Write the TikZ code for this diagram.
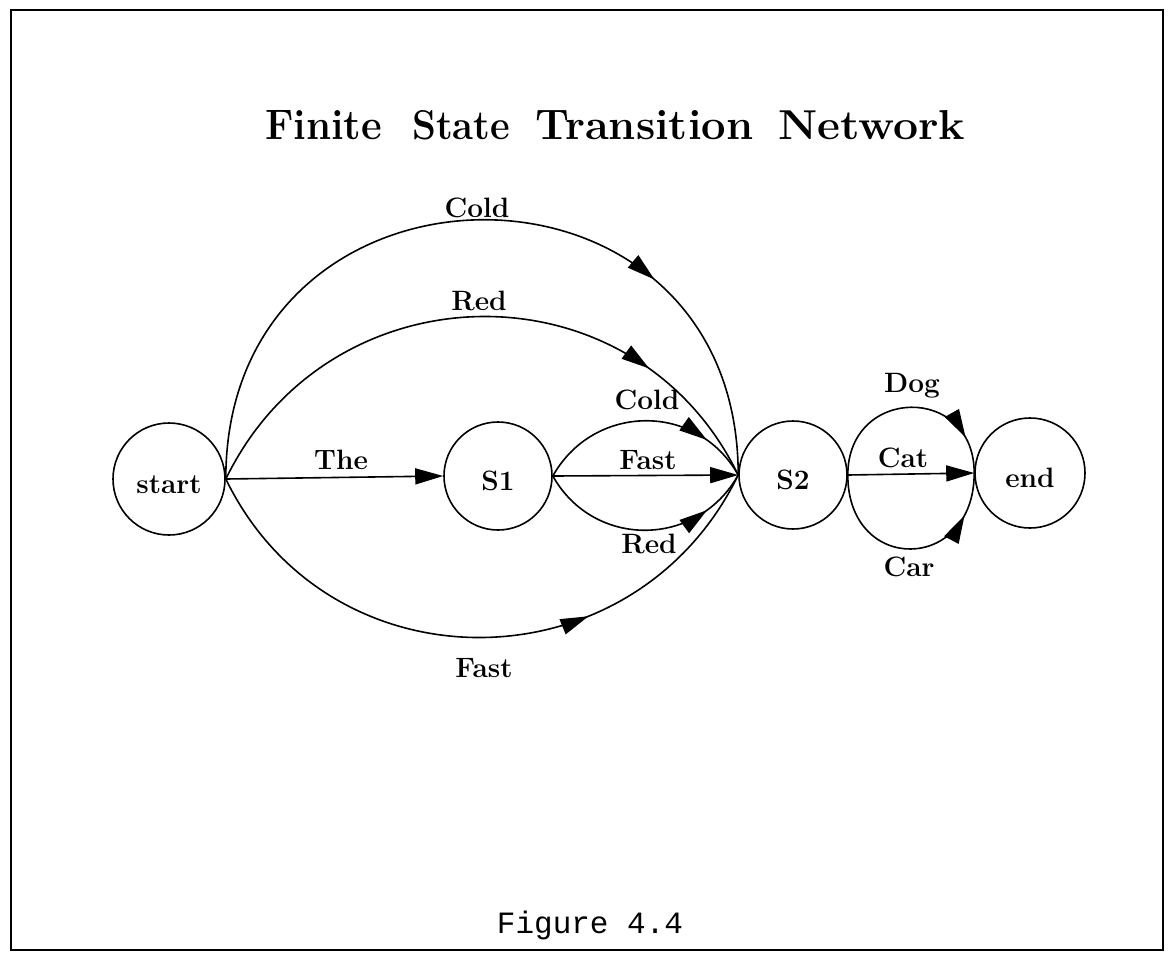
\documentclass[tikz,border=0pt]{standalone}
\usepackage{fontspec}
\newfontfamily\capfont{Liberation Mono}
\usetikzlibrary{arrows.meta,decorations.markings,calc}

\tikzset{
  state/.style={circle, draw, line width=1.6pt, inner sep=0pt,
    text height=28pt, text depth=0pt,
    font=\fontsize{28}{32}\selectfont\bfseries},
  edgelabel/.style={anchor=base, inner sep=0pt,
    font=\fontsize{28}{32}\selectfont\bfseries},
  titleword/.style={anchor=base west, inner sep=0pt,
    font=\fontsize{42}{48}\selectfont\bfseries},
  link/.style={line width=1.6pt},
  straight/.style={link, -{Triangle[length=28pt,width=16pt]}},
  midarrow/.style={link, postaction={decorate},
    decoration={markings, mark=at position #1 with {\arrow{Triangle[length=28pt,width=16pt]}}}}
}

\begin{document}
\begin{tikzpicture}[x=1pt,y=-1pt]
\useasboundingbox (0,0) rectangle (1169,959);
\fill[white] (0,0) rectangle (1169,959);

% frame
\draw[line width=2pt] (11,10) rectangle (1163,950);

% title, one word at a time
\node[titleword] (t1) at (265,139) {\resizebox{117pt}{29pt}{Finite}};
\node[titleword] (t2) at (412,139) {\resizebox{98pt}{29pt}{State}};
\node[titleword] (t3) at (535,139) {\resizebox{218pt}{29pt}{Transition}};
\node[titleword] (t4) at (778,139) {\resizebox{187pt}{29pt}{Network}};

% states
\node[state, minimum size=112pt] (start) at (169,479) {start};
\node[state, minimum size=108pt] (S1) at (498,476) {S1};
\node[state, minimum size=108pt] (S2) at (793,475) {S2};
\node[state, minimum size=110pt] (end) at (1030,473) {end};

% start -> S2 (outer arcs)
\draw[midarrow=0.73] (start.east) .. controls ($(start.east)+(0,-343)$) and ($(S2.west)+(0,-343)$) .. (S2.west);
\draw[midarrow=0.78] (start.east) .. controls ($(start.east)+(104,-214)$) and ($(S2.west)+(-104,-214)$) .. (S2.west);
\draw[midarrow=0.67] (start.east) .. controls ($(start.east)+(104,214)$) and ($(S2.west)+(-104,214)$) .. (S2.west);

% start -> S1
\draw[straight] (start.east) -- (S1.west);

% S1 -> S2
\draw[midarrow=0.79] (S1.east) .. controls ($(S1.east)+(41,-73)$) and ($(S2.west)+(-41,-73)$) .. (S2.west);
\draw[straight] (S1.east) -- (S2.west);
\draw[midarrow=0.79] (S1.east) .. controls ($(S1.east)+(41,73)$) and ($(S2.west)+(-41,73)$) .. (S2.west);

% S2 -> end
\draw[midarrow=0.82] (S2.east) .. controls ($(S2.east)+(0,-89)$) and ($(end.west)+(0,-89)$) .. (end.west);
\draw[straight] (S2.east) -- (end.west);
\draw[midarrow=0.80] (S2.east) .. controls ($(S2.east)+(0,100)$) and ($(end.west)+(0,100)$) .. (end.west);

% word labels
\node[edgelabel] (lcold1) at (477,217) {Cold};
\node[edgelabel] (lred1) at (479,310) {Red};
\node[edgelabel] (lthe) at (341,469) {The};
\node[edgelabel] (lcold2) at (647,409) {Cold};
\node[edgelabel] (lfast2) at (648,469) {Fast};
\node[edgelabel] (lred2) at (649,553) {Red};
\node[edgelabel] (lfast1) at (484,677) {Fast};
\node[edgelabel] (ldog) at (912,392) {Dog};
\node[edgelabel] (lcat) at (903,467) {Cat};
\node[edgelabel] (lcar) at (909,576) {Car};

% caption
\node[anchor=base, inner sep=0pt, font=\capfont\fontsize{31}{36}\selectfont] (cap) at (590,933) {Figure 4.4};
\end{tikzpicture}
\end{document}
